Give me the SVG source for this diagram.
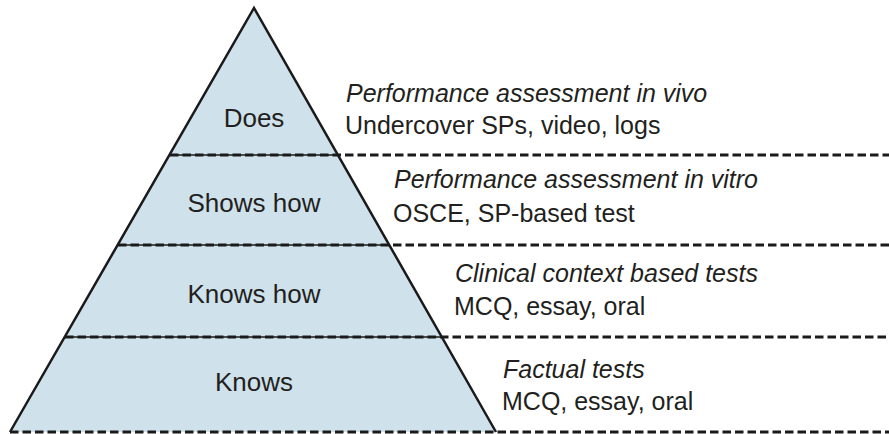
<svg xmlns="http://www.w3.org/2000/svg" width="889" height="434" viewBox="0 0 889 434">
<style>
.lbl{font-family:"Liberation Sans",Arial,sans-serif;font-size:26px;fill:#231f20;text-anchor:middle}
.t{font-family:"Liberation Sans",Arial,sans-serif;font-size:25px;fill:#231f20}
.i{font-style:italic}
.edge{stroke:#1a1a1a;stroke-width:2.5;fill:none}
.solid{stroke:#1a1a1a;stroke-width:1.5;fill:none}
.dash{stroke:#1a1a1a;stroke-width:3;stroke-dasharray:8.5 4;fill:none}
</style>
<rect width="889" height="434" fill="#ffffff"/>
<g id="pyramid">
<polygon points="254,8 10,432 496,432" fill="#cfe2ec"/>
<polyline class="edge" points="10,432 254,8 496,432"/>
</g>
<g id="level-does"><text class="lbl" x="254" y="127">Does</text></g>
<g id="level-shows-how"><text class="lbl" x="254" y="212">Shows how</text></g>
<g id="level-knows-how"><text class="lbl" x="254" y="303">Knows how</text></g>
<g id="level-knows"><text class="lbl" x="254" y="391">Knows</text></g>
<g id="connectors">
<line class="solid" x1="170" y1="155" x2="338" y2="155"/>
<line class="solid" x1="118" y1="245" x2="390" y2="245"/>
<line class="solid" x1="65" y1="337" x2="443" y2="337"/>
<line class="dash" x1="170" y1="155" x2="889" y2="155"/>
<line class="dash" x1="118" y1="245" x2="889" y2="245"/>
<line class="dash" x1="65" y1="337" x2="889" y2="337"/>
<line class="dash" x1="10" y1="432" x2="889" y2="432"/>
</g>
<g id="desc-does">
<text class="t i" x="346" y="102">Performance assessment in vivo</text>
<text class="t" x="345" y="134">Undercover SPs, video, logs</text>
</g>
<g id="desc-shows-how">
<text class="t i" x="394" y="188">Performance assessment in vitro</text>
<text class="t" x="393" y="222">OSCE, SP-based test</text>
</g>
<g id="desc-knows-how">
<text class="t i" x="455" y="282">Clinical context based tests</text>
<text class="t" x="454" y="315">MCQ, essay, oral</text>
</g>
<g id="desc-knows">
<text class="t i" x="503" y="378">Factual tests</text>
<text class="t" x="502" y="410">MCQ, essay, oral</text>
</g>
</svg>
